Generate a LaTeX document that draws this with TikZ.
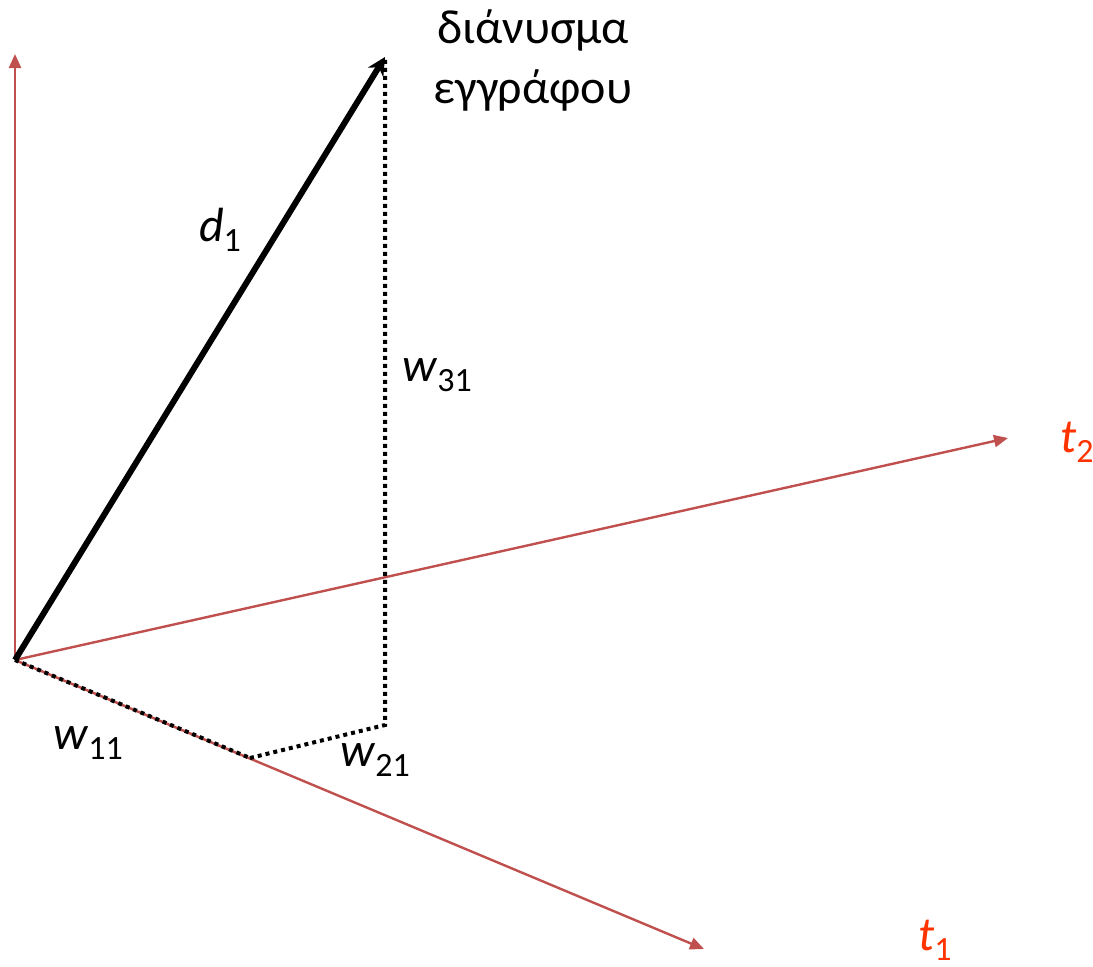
\documentclass[tikz,border=0pt]{standalone}
\usepackage{fontspec}
\setmainfont{Carlito}
\usetikzlibrary{arrows.meta}
\definecolor{axisRed}{HTML}{C0504D}
\definecolor{termOrange}{HTML}{FF3300}
\newcommand{\idx}[2]{\textit{#1}\raisebox{-0.45ex}{\fontsize{34}{34}\selectfont #2}}

\begin{document}
\begin{tikzpicture}[x=1pt, y=-1pt, >={Triangle[length=14pt, width=12pt]},
      axis/.style={draw=axisRed, line width=2.4pt, ->},
      vec/.style={draw=black, line width=6pt, -{Stealth[length=18pt, width=18pt, inset=6pt]}},
      proj/.style={draw=black, line width=4pt, dash pattern=on 4pt off 4pt},
      lbl/.style={font=\fontsize{48}{60}\selectfont, inner sep=0pt},
      term/.style={lbl, text=termOrange}]
    \useasboundingbox (0,0) rectangle (1093,967);
    % points
    \coordinate (O) at (15,660);
    \coordinate (up) at (15,54);
    \coordinate (t2end) at (1008,438);
    \coordinate (t1end) at (704,949);
    \coordinate (dtip) at (385,57);
    \coordinate (foot) at (385,725);
    \coordinate (onT1) at (250,758);
    % axes
    \draw[axis] (O) -- (up);
    \draw[axis] (O) -- (t2end);
    \draw[axis] (O) -- (t1end);
    % projections
    \draw[proj] (O) -- (onT1);
    \draw[proj] (onT1) -- (foot) -- (dtip);
    % document vector
    \draw[vec] (O) -- (dtip);
    % labels
    \node[lbl, align=center] (doc) at (533,60) {διάνυσμα\\εγγράφου};
    \node[lbl] (d1) at (220,230) {\idx{d}{1}};
    \node[lbl] (w31) at (437,375) {\idx{w}{31}};
    \node[lbl] (w11) at (88,743) {\idx{w}{11}};
    \node[lbl] (w21) at (375,760) {\idx{w}{21}};
    \node[term] (t2) at (1077,442) {\idx{t}{2}};
    \node[term] (t1) at (935,940) {\idx{t}{1}};
  \end{tikzpicture}
\end{document}
